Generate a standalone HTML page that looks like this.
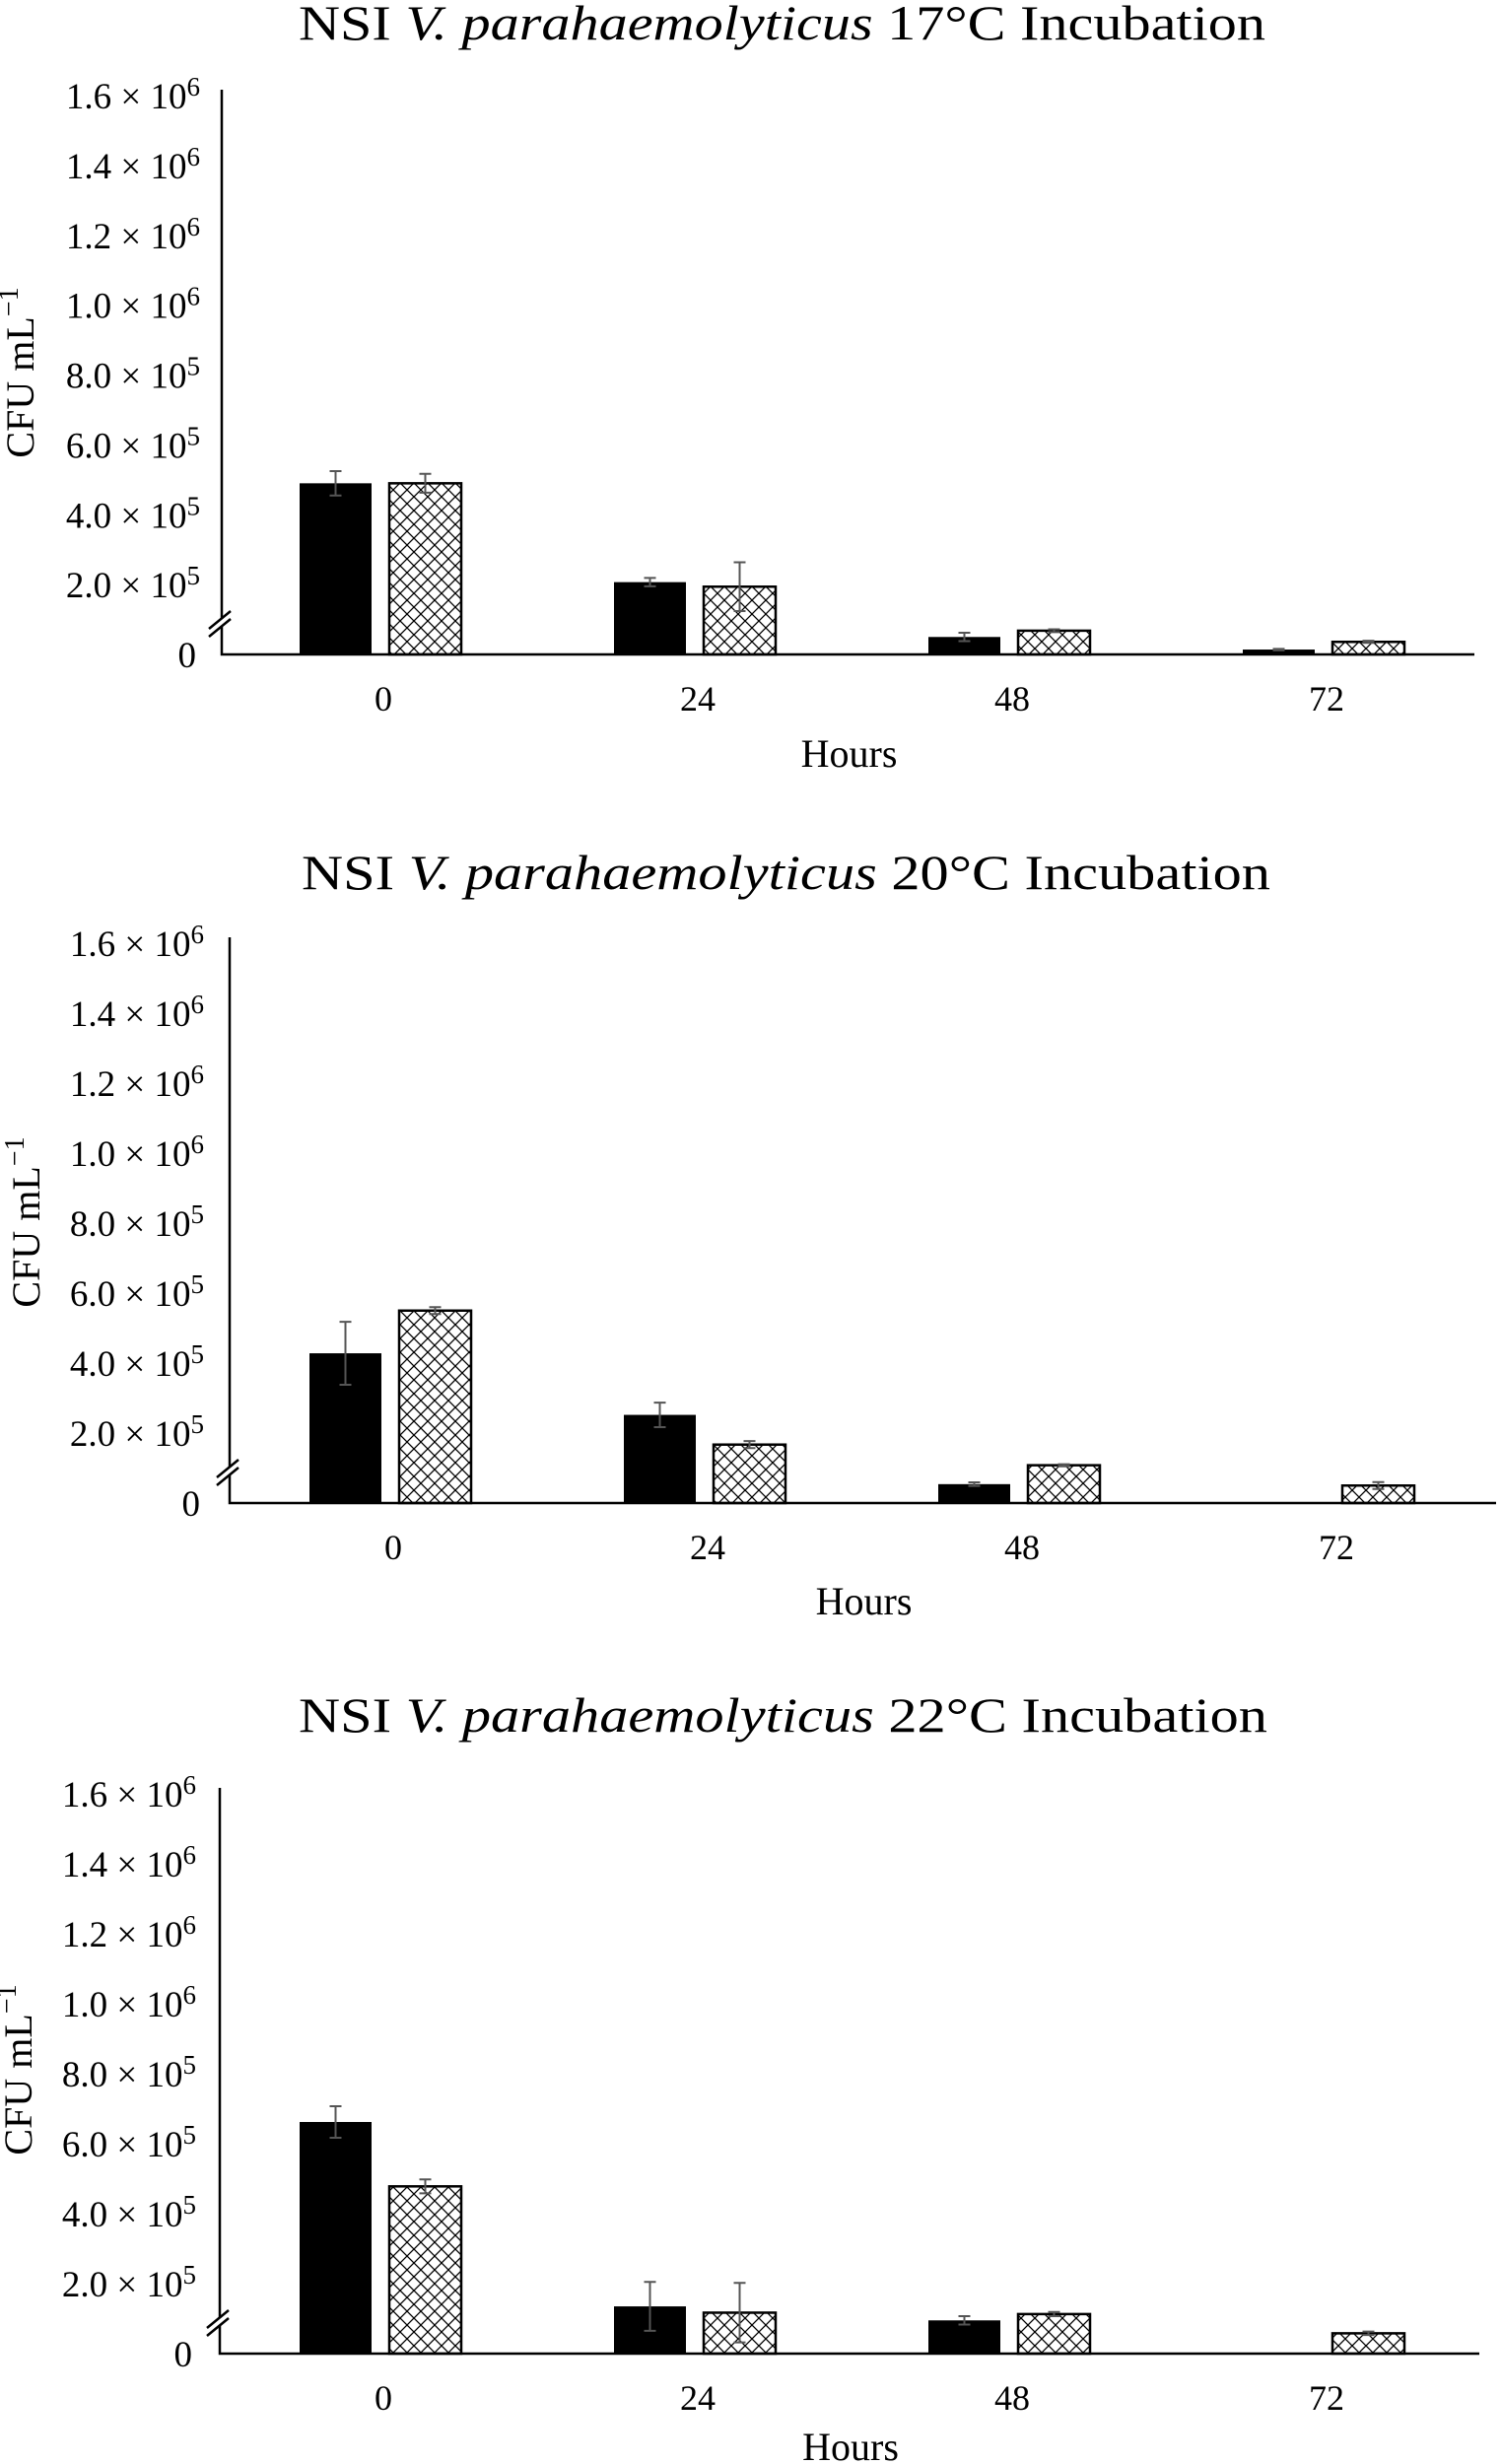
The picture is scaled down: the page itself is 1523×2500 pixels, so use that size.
<!DOCTYPE html>
<html><head><meta charset="utf-8">
<style>
html,body{margin:0;padding:0;background:#fff;}
svg{display:block;font-family:"Liberation Serif",serif;}
</style></head>
<body>
<svg id="fig" width="1523" height="2500" viewBox="0 0 1523 2500" xmlns="http://www.w3.org/2000/svg">
<defs>
<pattern id="hatch" patternUnits="userSpaceOnUse" width="14" height="14">
<rect width="14" height="14" fill="#fff"/>
<path d="M0,0 L14,14 M14,0 L0,14" stroke="#000" stroke-width="1.3"/>
</pattern>
</defs>
</svg>
<script>
// ---- data ----
const categories = ["0", "24", "48", "72"];
const yTickValues = [0, 200000, 400000, 600000, 800000, 1000000, 1200000, 1400000, 1600000];
const yTickMant = ["0", "2.0", "4.0", "6.0", "8.0", "1.0", "1.2", "1.4", "1.6"];
const yTickExp = ["", "5", "5", "5", "5", "6", "6", "6", "6"];
const titles17 = "17°C Incubation";
const titles20 = "20°C Incubation";
const titles22 = "22°C Incubation";
const solid17 = [490000, 207000, 50000, 14000];
const solidErr17 = [35000, 12000, 12000, 2000];
const hatch17 = [490000, 194000, 68000, 36000];
const hatchErr17 = [27000, 70000, 4000, 3000];
const solid20 = [428000, 252000, 54000, 0];
const solidErr20 = [90000, 35000, 5000, 0];
const hatch20 = [550000, 167000, 108000, 50000];
const hatchErr20 = [10000, 10000, 3000, 10000];
const solid22 = [662000, 135000, 95000, 0];
const solidErr22 = [45000, 70000, 12000, 0];
const hatch22 = [478000, 117000, 113000, 58000];
const hatchErr22 = [20000, 85000, 6000, 5000];

const NS = "http://www.w3.org/2000/svg";
const svg = document.getElementById("fig");
function mk(tag, attrs, parent) {
  const e = document.createElementNS(NS, tag);
  for (const k in attrs) e.setAttribute(k, attrs[k]);
  (parent || svg).appendChild(e);
  return e;
}

const panels = [
  {key:"17", title:titles17, solid:solid17, sErr:solidErr17, hatch:hatch17, hErr:hatchErr17,
   x0:225, x1:1496, base:664, top:97, first:386, step:319, tickX:203, titleY:40, titleX0:303, titleX1:1284, hoursY:778, ylabY:378, ylabX:34},
  {key:"20", title:titles20, solid:solid20, sErr:solidErr20, hatch:hatch20, hErr:hatchErr20,
   x0:233, x1:1518, base:1525, top:957, first:396, step:319, tickX:207, titleY:902, titleX0:306, titleX1:1289, hoursY:1638, ylabY:1240, ylabX:40},
  {key:"22", title:titles22, solid:solid22, sErr:solidErr22, hatch:hatch22, hErr:hatchErr22,
   x0:223, x1:1501, base:2388, top:1820, first:386, step:319, tickX:199, titleY:1757, titleX0:303, titleX1:1286, hoursY:2496, ylabY:2100, ylabX:32}
];

panels.forEach(p => {
  const g = mk("g", {});
  
  
  const yS = v => p.base - (v / 1600000) * (p.base - p.top);
  const xC = i => p.first + i * p.step;
  const bw = 73, gap = 18;

  const t = mk("text", {x:(p.titleX0+p.titleX1)/2, y:p.titleY, "font-size":50, "text-anchor":"middle", textLength:p.titleX1-p.titleX0, lengthAdjust:"spacingAndGlyphs"}, g);
  
  
  t.innerHTML = 'NSI <tspan font-style="italic">V. parahaemolyticus</tspan> ' + p.title;

  yTickValues.forEach((v, i) => {
    const y = yS(v) + 13;
    const tx = mk("text", {x:p.tickX, y:y, "font-size":37, "text-anchor":"end"}, g);
    
    
    if (yTickExp[i]) {
      tx.innerHTML = yTickMant[i] + ' × 10<tspan dy="-13" font-size="27">' + yTickExp[i] + '</tspan>';
    } else {
      tx.setAttribute('x', p.tickX - 4);
      tx.textContent = yTickMant[i];
    }
  });

  const yl = mk("text", {x:0, y:0, "font-size":40, "text-anchor":"middle", transform:"translate(" + (p.ylabX) + "," + p.ylabY + ") rotate(-90)"}, g);
  
  
  yl.innerHTML = 'CFU mL<tspan dy="-16" font-size="28">−1</tspan>';

  categories.forEach((c, i) => {
    const cx = xC(i);
    const sx = cx - gap/2 - bw, hx = cx + gap/2;
    if (p.solid[i] > 0) {
      const r = mk("rect", {x:sx, y:yS(p.solid[i]), width:bw, height:p.base - yS(p.solid[i]), fill:"#000"}, g);
      
      
    }
    if (p.hatch[i] > 0) {
      const r = mk("rect", {x:hx, y:yS(p.hatch[i]), width:bw, height:p.base - yS(p.hatch[i]), fill:"url(#hatch)", stroke:"#000", "stroke-width":2.5}, g);
      
      
    }
    [[sx, p.solid[i], p.sErr[i]], [hx, p.hatch[i], p.hErr[i]]].forEach(([bx, v, e]) => {
      if (v <= 0 || e <= 0) return;
      const ex = bx + bw/2;
      const eb = mk("path", {d:"M" + ex + "," + yS(v+e) + " V" + yS(v-e) + " M" + (ex-6) + "," + yS(v+e) + " H" + (ex+6) + " M" + (ex-6) + "," + yS(v-e) + " H" + (ex+6), stroke:"#555", "stroke-width":2, fill:"none"}, g);
      
      
    });
    const xl = mk("text", {x:cx + 3, y:p.base + 57, "font-size":36, "text-anchor":"middle"}, g);
    
    
    xl.textContent = c;
  });

  const ax = mk("path", {d:"M" + p.x0 + "," + (p.top - 6) + " V" + p.base + " H" + p.x1, stroke:"#000", "stroke-width":2.5, fill:"none"}, g);
  
  
  const by = p.base - 30;
  const br = mk("g", {}, g);
  
  
  mk("rect", {x:p.x0 - 3, y:by - 6, width:6, height:8, fill:"#fff"}, br);
  mk("path", {d:"M" + (p.x0-13) + "," + (by+4) + " L" + (p.x0+9) + "," + (by-14) + " M" + (p.x0-13) + "," + (by+12) + " L" + (p.x0+9) + "," + (by-6), stroke:"#000", "stroke-width":2.5}, br);

  const hl = mk("text", {x:(p.x0 + p.x1)/2 + 1, y:p.hoursY, "font-size":40, "text-anchor":"middle"}, g);
  
  
  hl.textContent = "Hours";
});
</script>
</body></html>
